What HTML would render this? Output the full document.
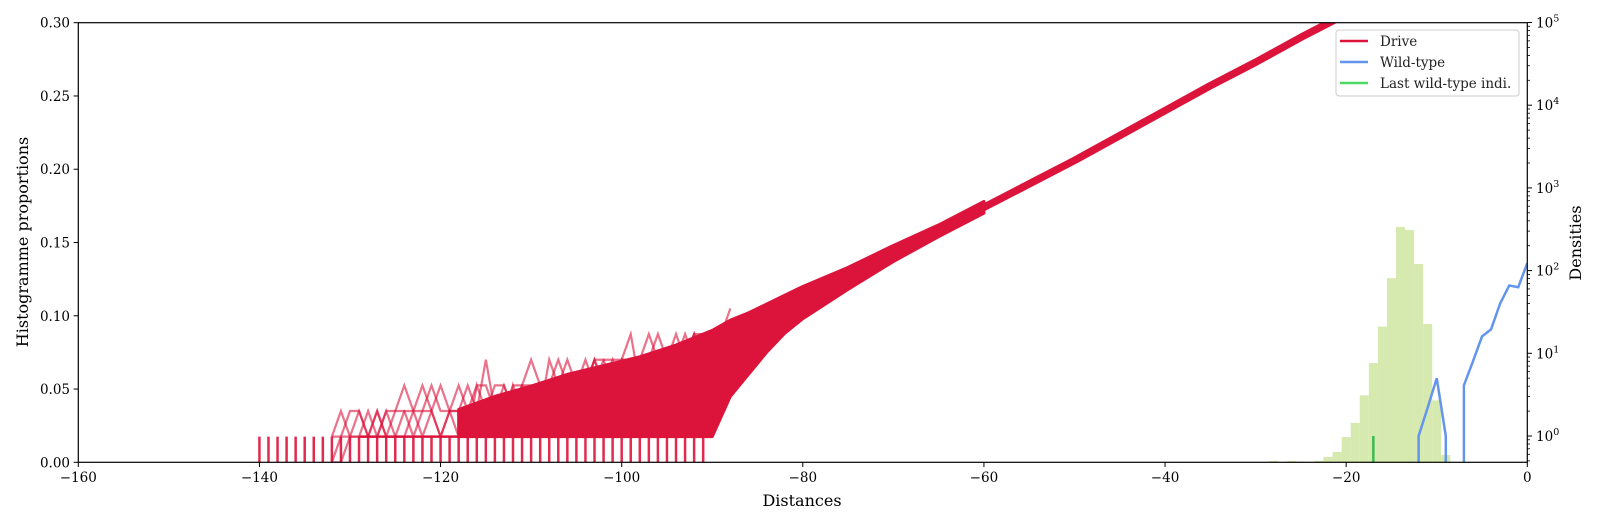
<!DOCTYPE html>
<html><head><meta charset="utf-8"><style>
html,body{margin:0;padding:0;background:#fff;width:1600px;height:525px;overflow:hidden;}
svg{display:block;font-family:"DejaVu Serif","Liberation Serif",serif;}
</style></head><body>
<svg id="chart" width="1600" height="525" viewBox="0 0 1600 525" xmlns="http://www.w3.org/2000/svg">
<defs><clipPath id="plotclip"><rect x="78.3" y="22.7" width="1449" height="439.6"/></clipPath></defs>
<rect width="1600" height="525" fill="#fff"/>
<g id="plot" clip-path="url(#plotclip)"></g>
<g id="axes"></g>
<g id="legend">
<rect x="1336" y="30" width="183" height="66" rx="3" fill="#fff" fill-opacity="0.8" stroke="#ccc"/>
<line x1="1340" y1="41" x2="1368" y2="41" stroke="#dc143c" stroke-width="2.5"/>
<text x="1380" y="46" font-size="13.5" fill="#222">Drive</text>
<line x1="1340" y1="62" x2="1368" y2="62" stroke="#6495ed" stroke-width="2.5"/>
<text x="1380" y="67" font-size="13.5" fill="#222">Wild-type</text>
<line x1="1340" y1="83" x2="1368" y2="83" stroke="#4cd964" stroke-width="2.5"/>
<text x="1380" y="88" font-size="13.5" fill="#222">Last wild-type indi.</text>
</g>
</svg>
<script>
// ---- data ----
const xTicks = [-160,-140,-120,-100,-80,-60,-40,-20,0];
const leftTicks = [0,0.05,0.10,0.15,0.20,0.25,0.30];
const leftTickLabels = ["0.00","0.05","0.10","0.15","0.20","0.25","0.30"];
const rightDecades = [0,1,2,3,4,5];
const driveMeanX = [-92,-85,-80,-75,-70,-65,-60,-55,-50,-45,-40,-35,-30,-25,-20,-15];
const driveMeanY = [0.075,0.096,0.113,0.125,0.142,0.156,0.174,0.19,0.206,0.223,0.24,0.257,0.273,0.29,0.306,0.322];
const bandX = [-118,-114,-110,-106,-102,-98,-94,-90,-88,-86,-84,-82,-80,-75,-70,-65,-60];
const bandUpper = [0.036,0.045,0.052,0.06,0.066,0.072,0.08,0.09,0.097,0.102,0.108,0.114,0.12,0.133,0.148,0.162,0.178];
const bandLower = [0.0175,0.0175,0.0175,0.0175,0.0175,0.0175,0.0175,0.0175,0.045,0.06,0.075,0.088,0.098,0.118,0.137,0.154,0.170];
const countUnit = 0.0175;
const noisyStart = -132;
const noisy1 = [1,2,1,1,2,1,2,1,1,2,3,2,1,2,2,1,3,2,2,1,3,2,2,3,2,3,3,2,3,4,3,3,4,3,3,4,4,3,4,4,5,4,4,5,5];
const noisy2 = [0,1,1,2,1,1,2,2,3,2,1,2,1,2,2,3,2,2,3,3,2,3,3,2,4,3,2,3,3,4,3,4,3,3,4,4,3,4,4,4,5,4,4,5,5];
const noisy3 = [1,1,2,2,1,2,1,2,2,1,2,3,2,2,3,2,2,4,2,3,2,3,4,3,3,3,4,3,4,3,4,4,4,5,3,4,5,4,4,5,4,5,5,4,5];
const noisy4 = [0,0,1,1,1,2,1,1,2,2,2,2,3,2,1,2,3,3,2,2,3,3,2,3,3,4,3,3,3,4,4,3,4,4,4,5,4,4,5,4,5,5,5,5,6];
const spikeX = [-140,-139,-138,-137,-136,-135,-134,-133,-132,-131,-130,-129,-128,-127,-126,-125,-124,-123,-122,-121,-120,-119,-118,-117,-116,-115,-114,-113,-112,-111,-110,-109,-108,-107,-106,-105,-104,-103,-102,-101,-100,-99,-98,-97,-96,-95,-94,-93,-92,-91];
const baselineRange = [-129,-91];
const histEdgeStart = -29.5;
const histCounts = [0.48,0.5,0.48,0.5,0.49,0.48,0.5,0.56,0.64,0.97,1.44,3.1,7.6,21,81,337,310,120,22.6,2.7,0.59];
const wildX = [-16,-15,-14,-13,-12,-11,-10,-9,-8,-7,-6,-5,-4,-3,-2,-1,0];
const wildY = [0,0,0,0,1,2.2,5,1,0,4.1,8,16,19.5,40,66,63,123];
const lastWildX = -17;
const lastWildY = 1.0;

// ---- scales ----
const X = v => 78.3 + (v + 160) * 1449 / 160;
const YL = v => 462.3 - v / 0.3 * 439.6;
const BOTTOM = 463;
const YR = d => d <= 0 ? BOTTOM : Math.min(BOTTOM, 436 - Math.log10(d) * 82.7);
const NS = "http://www.w3.org/2000/svg";
const plot = document.getElementById('plot');
const axes = document.getElementById('axes');
function mk(tag, attrs, parent) {
  const e = document.createElementNS(NS, tag);
  for (const k in attrs) e.setAttribute(k, attrs[k]);
  parent.appendChild(e);
  return e;
}

// histogram (green)
histCounts.forEach((c, i) => {
  const x0 = X(histEdgeStart + i), x1 = X(histEdgeStart + i + 1);
  const r = mk('rect', {x: x0, y: YR(c), width: x1 - x0, height: Math.max(0, 462.3 - YR(c)), fill: '#d6e9af'}, plot);
  
  
});

// drive spikes
spikeX.forEach(v => {
  const l = mk('line', {x1: X(v), x2: X(v), y1: YL(0), y2: YL(countUnit), stroke: '#dc143c', 'stroke-width': 2.5, 'stroke-opacity': 0.9}, plot);
  
  
});
const bl = mk('line', {x1: X(baselineRange[0]), x2: X(baselineRange[1]), y1: YL(countUnit), y2: YL(countUnit), stroke: '#dc143c', 'stroke-width': 2.5}, plot);



// noisy drive lines
[noisy1, noisy2, noisy3, noisy4].forEach(arr => {
  const pts = arr.map((c, i) => X(noisyStart + i) + ',' + YL(c * countUnit)).join(' ');
  const p = mk('polyline', {points: pts, fill: 'none', stroke: '#dc143c', 'stroke-width': 2.2, 'stroke-opacity': 0.6}, plot);
  
  
});

// dense band
{
  const up = bandX.map((x, i) => X(x) + ',' + YL(bandUpper[i]));
  const lo = bandX.map((x, i) => X(x) + ',' + YL(bandLower[i])).reverse();
  const b = mk('polygon', {points: up.concat(lo).join(' '), fill: '#dc143c', stroke: '#dc143c', 'stroke-width': 3, 'stroke-linejoin': 'round'}, plot);
  
  
}
// mean drive line
{
  const pts = driveMeanX.map((x, i) => X(x) + ',' + YL(driveMeanY[i])).join(' ');
  const m = mk('polyline', {points: pts, fill: 'none', stroke: '#dc143c', 'stroke-width': 7.5, 'stroke-linejoin': 'round'}, plot);
  
  
}

// wild-type line (zeros on log scale drop vertically to the bottom edge)
{
  let d = '';
  for (let i = 0; i < wildX.length; i++) {
    if (wildY[i] <= 0) continue;
    const x = X(wildX[i]), y = YR(wildY[i]);
    const prevZero = i === 0 || wildY[i - 1] <= 0;
    if (prevZero) d += 'M' + x + ',' + BOTTOM + ' L' + x + ',' + y + ' ';
    else d += 'L' + x + ',' + y + ' ';
    const nextZero = i < wildX.length - 1 && wildY[i + 1] <= 0;
    if (nextZero) d += 'L' + x + ',' + BOTTOM + ' ';
  }
  const w = mk('path', {d: d, fill: 'none', stroke: '#6495ed', 'stroke-width': 2.5}, plot);
  
  
}
// last wild-type
{
  const g = mk('line', {x1: X(lastWildX), x2: X(lastWildX), y1: 462.3, y2: YR(lastWildY), stroke: '#3cbc50', 'stroke-width': 2.5}, plot);
  
  
}

// frame
const fr = mk('rect', {x: 78.3, y: 22.7, width: 1449, height: 439.6, fill: 'none', stroke: '#000', 'stroke-width': 1.2}, axes);



// x ticks
xTicks.forEach(v => {
  const t = mk('line', {x1: X(v), x2: X(v), y1: 462.3, y2: 467, stroke: '#000'}, axes);
  
  
  const s = mk('text', {x: X(v), y: 482, 'font-size': 13.5, 'text-anchor': 'middle', fill: '#000'}, axes);
  s.textContent = v < 0 ? '\u2212' + Math.abs(v) : String(v);
  
  
});
// left ticks
leftTicks.forEach((v, i) => {
  const t = mk('line', {x1: 73.6, x2: 78.3, y1: YL(v), y2: YL(v), stroke: '#000'}, axes);
  
  
  const s = mk('text', {x: 70, y: YL(v) + 5, 'font-size': 13.5, 'text-anchor': 'end', fill: '#000'}, axes);
  s.textContent = leftTickLabels[i];
  
  
});
// right ticks (log)
rightDecades.forEach(k => {
  const y = YR(Math.pow(10, k));
  const t = mk('line', {x1: 1527.3, x2: 1532, y1: y, y2: y, stroke: '#000'}, axes);
  
  
  const s = mk('text', {x: 1536, y: y + 5, 'font-size': 13.5, fill: '#000'}, axes);
  s.textContent = '10';
  const sup = mk('tspan', {dy: -6, 'font-size': 9.5}, s);
  sup.textContent = String(k);
  
  
});
for (let k = -1; k < 5; k++) {
  for (let m = 2; m <= 9; m++) {
    const y = YR(m * Math.pow(10, k));
    if (y > 462.3 || y < 22.7) continue;
    const t = mk('line', {x1: 1527.3, x2: 1530, y1: y, y2: y, stroke: '#000', 'stroke-width': 0.8}, axes);
    
    
  }
}
// axis titles
const xt = mk('text', {x: 802, y: 506, 'font-size': 16, 'text-anchor': 'middle', fill: '#000'}, axes);
xt.textContent = 'Distances';


const yt = mk('text', {x: 0, y: 0, 'font-size': 16, 'text-anchor': 'middle', fill: '#000', transform: 'translate(28,242) rotate(-90)'}, axes);
yt.textContent = 'Histogramme proportions';


const rt = mk('text', {x: 0, y: 0, 'font-size': 16, 'text-anchor': 'middle', fill: '#000', transform: 'translate(1581,243) rotate(-90)'}, axes);
rt.textContent = 'Densities';


</script>
</body></html>
